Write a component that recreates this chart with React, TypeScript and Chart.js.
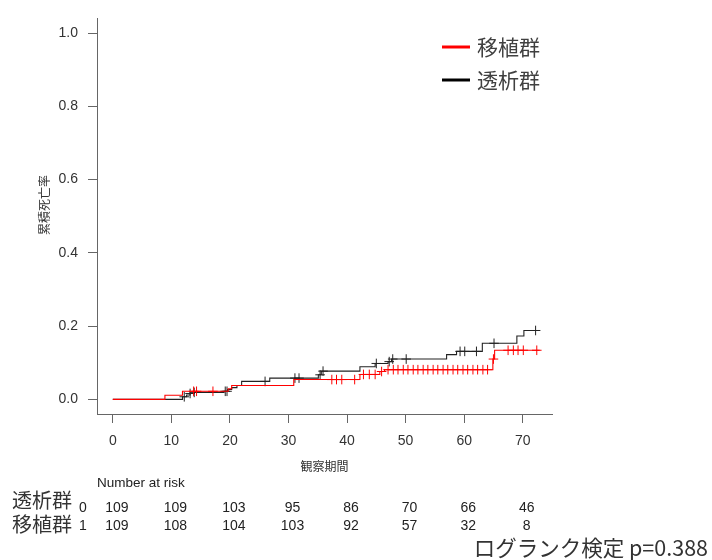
import { useEffect, useRef } from "react";
import { Chart, registerables } from "chart.js";

Chart.register(...registerables);

// ---- data ----
const groupNames = ["移植群", "透析群"];
const groupColors = ["#ff0000", "#000000"];

// 移植群 (transplant) cumulative mortality steps
const transplantTimes = [0, 8.9, 11.9, 19.7, 20.3, 30.9, 42.2, 45.6, 46.4, 64.9, 65.2, 72.9];
const transplantValues = [0, 0.011, 0.022, 0.029, 0.038, 0.054, 0.068, 0.076, 0.081, 0.11, 0.134, 0.134];
const transplantCensor = [
  13.8, 14.3, 17.1, 37.4, 38.2, 39.1, 41.3, 42.8, 43.8, 44.8, 45.9, 47.0, 47.9, 48.7, 49.6, 50.4,
  51.3, 52.1, 53.0, 53.8, 54.7, 55.5, 56.4, 57.2, 58.1, 58.9, 59.8, 60.6, 61.5, 62.3, 63.2, 64.0,
  65.0, 67.5, 68.4, 69.2, 70.1, 72.4,
];

// 透析群 (dialysis) cumulative mortality steps
const dialysisTimes = [0, 11.9, 12.6, 13.2, 13.8, 19.0, 19.6, 20.3, 21.2, 22.0, 26.8, 35.1, 35.6, 42.2, 44.8, 47.0, 47.6, 57.0, 58.7, 63.1, 69.0, 70.2, 72.9];
const dialysisValues = [0, 0.007, 0.012, 0.016, 0.019, 0.022, 0.027, 0.032, 0.038, 0.049, 0.058, 0.067, 0.077, 0.089, 0.098, 0.103, 0.11, 0.122, 0.131, 0.153, 0.173, 0.188, 0.188];
const dialysisCensor = [12.2, 13.2, 13.9, 19.2, 19.5, 26.0, 31.1, 31.8, 35.4, 35.9, 45.0, 47.2, 47.8, 50.1, 59.3, 60.1, 62.1, 65.1, 72.2];

// axis ticks
const xTicks = [0, 10, 20, 30, 40, 50, 60, 70];
const yTicks = [0, 0.2, 0.4, 0.6, 0.8, 1.0];

// number at risk
const riskTimes = [0, 10, 20, 30, 40, 50, 60, 70];
const riskRowLabels = ["透析群", "移植群"];
const riskRowCodes = ["0", "1"];
const dialysisRisk = [109, 109, 103, 95, 86, 70, 66, 46];
const transplantRisk = [109, 108, 104, 103, 92, 57, 32, 8];

const yTitle = "累積死亡率";
const xTitle = "観察期間";
const riskTitle = "Number at risk";
const testText = "ログランク検定 p=0.388";

// ---- helpers ----
function stepValueAt(times: number[], values: number[], t: number) {
  let v = values[0];
  for (let i = 0; i < times.length; i++) {
    if (times[i] <= t) v = values[i];
  }
  return v;
}

const CJK = '"Noto Sans CJK JP", "Noto Sans", sans-serif';
const NARROW = '"Liberation Sans Narrow", "Arial Narrow", "Liberation Sans", sans-serif';

const textPlugin = {
  id: "kmTexts",
  afterDraw(chart: any) {
    const ctx = chart.ctx as CanvasRenderingContext2D;
    const xs = chart.scales.x;
    ctx.save();
    // y title
    ctx.save();
    ctx.translate(44, 205);
    ctx.rotate(-Math.PI / 2);
    ctx.font = `12px ${CJK}`;
    ctx.fillStyle = "#333";
    ctx.textAlign = "center";
    ctx.textBaseline = "middle";
    ctx.fillText(yTitle, 0, 0);
    ctx.restore();

    // x title
    ctx.font = `12px ${CJK}`;
    ctx.fillStyle = "#333";
    ctx.textAlign = "center";
    ctx.textBaseline = "middle";
    ctx.fillText(xTitle, (chart.chartArea.left + chart.chartArea.right) / 2, 466);

    // legend
    const legendY = [47, 80];
    groupNames.forEach((name, i) => {
      ctx.strokeStyle = groupColors[i];
      ctx.lineWidth = 3;
      ctx.beginPath();
      ctx.moveTo(442, legendY[i]);
      ctx.lineTo(470, legendY[i]);
      ctx.stroke();
      ctx.font = `21px ${CJK}`;
      ctx.fillStyle = "#404040";
      ctx.textAlign = "left";
      ctx.textBaseline = "middle";
      ctx.fillText(name, 477, legendY[i]);
    });

    // number at risk
    ctx.fillStyle = "#222";
    ctx.font = `13.5px ${NARROW}`;
    ctx.textAlign = "left";
    ctx.textBaseline = "middle";
    ctx.fillText(riskTitle, 97, 483);

    const rows = [dialysisRisk, transplantRisk];
    const rowY = [508, 526];
    const labelY = [500, 524];
    rows.forEach((row, r) => {
      ctx.font = `20px ${CJK}`;
      ctx.fillStyle = "#333";
      ctx.textAlign = "left";
      ctx.textBaseline = "middle";
      ctx.fillText(riskRowLabels[r], 12, labelY[r]);
      ctx.font = `14px ${NARROW}`;
      ctx.fillStyle = "#222";
      ctx.fillText(riskRowCodes[r], 79, rowY[r]);
      ctx.textAlign = "center";
      row.forEach((n, i) => {
        ctx.fillText(String(n), xs.getPixelForValue(riskTimes[i]) + 4, rowY[r]);
      });
    });

    // log-rank text
    ctx.font = `21.5px ${CJK}`;
    ctx.fillStyle = "#333";
    ctx.textAlign = "right";
    ctx.textBaseline = "middle";
    ctx.fillText(testText, 708, 548);
    ctx.restore();
  },
};

export default function App() {
  const ref = useRef<HTMLCanvasElement | null>(null);

  useEffect(() => {
    if (!ref.current) return;
    const toPts = (ts: number[], vs: number[]) => ts.map((t, i) => ({ x: t, y: vs[i] }));
    const censorPts = (cs: number[], ts: number[], vs: number[]) =>
      cs.map((t) => ({ x: t, y: stepValueAt(ts, vs, t) }));

    const chart = new Chart(ref.current, {
      type: "line",
      data: {
        datasets: [
          {
            label: groupNames[0],
            data: toPts(transplantTimes, transplantValues),
            borderColor: groupColors[0],
            borderWidth: 1.1,
            stepped: "before",
            pointRadius: 0,
            fill: false,
          },
          {
            label: groupNames[0] + " censor",
            data: censorPts(transplantCensor, transplantTimes, transplantValues),
            showLine: false,
            pointStyle: "cross",
            pointRadius: 4.8,
            pointBorderWidth: 1,
            pointBorderColor: groupColors[0],
            borderColor: groupColors[0],
          },
          {
            label: groupNames[1],
            data: toPts(dialysisTimes, dialysisValues),
            borderColor: "#222",
            borderWidth: 1.1,
            stepped: "before",
            pointRadius: 0,
            fill: false,
          },
          {
            label: groupNames[1] + " censor",
            data: censorPts(dialysisCensor, dialysisTimes, dialysisValues),
            showLine: false,
            pointStyle: "cross",
            pointRadius: 4.8,
            pointBorderWidth: 1,
            pointBorderColor: "#222",
            borderColor: "#222",
          },
        ],
      },
      options: {
        animation: false,
        responsive: false,
        maintainAspectRatio: false,
        layout: { padding: { left: 0, top: 15, right: 160, bottom: 100 } },
        plugins: { legend: { display: false }, tooltip: { enabled: false } },
        scales: {
          x: {
            type: "linear",
            min: -2.7,
            max: 75,
            afterBuildTicks: (s: any) => {
              s.ticks = xTicks.map((v) => ({ value: v }));
            },
            afterFit: (s: any) => {
              s.height = 46;
            },
            grid: { drawOnChartArea: false, drawTicks: true, tickLength: 9, color: "#666", tickWidth: 1 },
            border: { display: true, color: "#666", width: 1 },
            ticks: {
              padding: 10,
              color: "#333",
              font: { family: "Liberation Sans", size: 14 },
              maxRotation: 0,
            },
          },
          y: {
            type: "linear",
            min: -0.04,
            max: 1.04,
            afterBuildTicks: (s: any) => {
              s.ticks = yTicks.map((v) => ({ value: v }));
            },
            afterFit: (s: any) => {
              s.width = 97;
            },
            grid: { drawOnChartArea: false, drawTicks: true, tickLength: 9, color: "#666", tickWidth: 1 },
            border: { display: true, color: "#666", width: 1 },
            ticks: {
              padding: 10,
              color: "#333",
              font: { family: "Liberation Sans", size: 14 },
              callback: (v: any) => Number(v).toFixed(1),
            },
          },
        },
      },
      plugins: [textPlugin],
    } as any);
    return () => chart.destroy();
  }, []);

  return (
    <div style={{ position: "fixed", left: 0, top: 0, width: 712, height: 560, background: "#fff" }}>
      <canvas ref={ref} width={712} height={560} style={{ width: 712, height: 560 }} />
    </div>
  );
}
